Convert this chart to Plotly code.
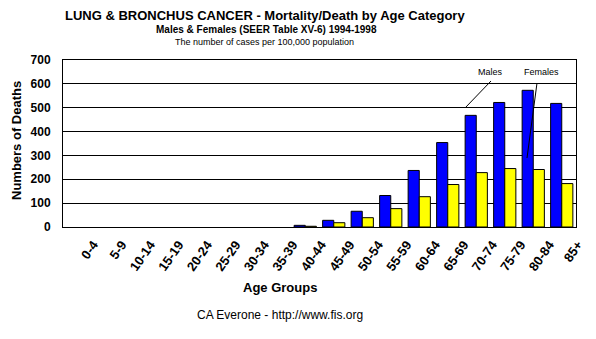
import plotly.graph_objects as go

age_groups = ["0-4", "5-9", "10-14", "15-19", "20-24", "25-29", "30-34", "35-39", "40-44",
              "45-49", "50-54", "55-59", "60-64", "65-69", "70-74", "75-79", "80-84", "85+"]
males = [0, 0, 0, 0, 0, 0, 0, 0, 7, 28, 66, 132, 237, 354, 468, 522, 573, 518]
females = [0, 0, 0, 0, 0, 0, 0, 0, 3, 18, 39, 77, 127, 178, 228, 245, 241, 182]
y_ticks = [0, 100, 200, 300, 400, 500, 600, 700]

FONT = "Arial, Liberation Sans, sans-serif"

def outline(vals):
    return [1 if v > 0 else 0 for v in vals]

fig = go.Figure()
fig.add_trace(go.Bar(x=age_groups, y=males, name="Males",
                     marker=dict(color="#0000FF", line=dict(color="black", width=outline(males)))))
fig.add_trace(go.Bar(x=age_groups, y=females, name="Females",
                     marker=dict(color="#FFFF00", line=dict(color="black", width=outline(females)))))

L, R, T, B = 63, 20, 60, 112
W, H = 596, 339
pw = W - L - R
ph = H - T - B

def px(x):
    return (x - L) / pw

def py(y):
    return (H - B - y) / ph

annotations = [
    dict(text="<b>LUNG & BRONCHUS CANCER - Mortality/Death by Age Category</b>", x=px(265), y=py(15),
         font=dict(size=13, family=FONT, color="black")),
    dict(text="<b>Males & Females (SEER Table XV-6) 1994-1998</b>", x=px(266), y=py(30),
         font=dict(size=10, family=FONT, color="black")),
    dict(text="The number of cases per 100,000 population", x=px(264), y=py(42),
         font=dict(size=9, family=FONT, color="black")),
    dict(text="<b>Age Groups</b>", x=px(280), y=py(287),
         font=dict(size=13, family=FONT, color="black")),
    dict(text="CA Everone - http://www.fis.org", x=px(280), y=py(315),
         font=dict(size=12, family=FONT, color="black")),
    dict(text="<b>Numbers of Deaths</b>", x=px(16), y=py(141), textangle=-90,
         font=dict(size=13, family=FONT, color="black")),
    dict(text="Males", x=px(490), y=py(72),
         font=dict(size=9, family=FONT, color="black")),
    dict(text="Females", x=px(541), y=py(72),
         font=dict(size=9, family=FONT, color="black")),
]
for a in annotations:
    a.update(xref="paper", yref="paper", showarrow=False, xanchor="center", yanchor="middle")

fig.update_layout(
    annotations=annotations,
    width=W, height=H,
    margin=dict(l=L, r=R, t=T, b=B, pad=0, autoexpand=False),
    paper_bgcolor="white", plot_bgcolor="white",
    barmode="group", bargap=0.22, bargroupgap=0,
    showlegend=False,
    font=dict(family=FONT, color="black"),
    xaxis=dict(type="category", tickangle=-55, showline=True, linecolor="black", linewidth=1,
               mirror=True, showgrid=False, ticks="", automargin=False,
               ticklabelshift=16, ticklabelstandoff=4,
               tickfont=dict(size=13, family=FONT, color="black"),
               tickprefix="<b>", ticksuffix="</b>"),
    yaxis=dict(range=[0, 700], tickvals=y_ticks, ticktext=[f"<b>{v}</b>" for v in y_ticks],
               showline=True, linecolor="black", linewidth=1, mirror=True, automargin=False,
               showgrid=True, gridcolor="black", gridwidth=1, zeroline=False, ticks="",
               ticklabelstandoff=9, tickfont=dict(size=12, family=FONT, color="black")),
    shapes=[
        dict(type="line", xref="paper", yref="paper", x0=px(491), y0=py(81), x1=px(465), y1=py(108),
             line=dict(color="black", width=1)),
        dict(type="line", xref="paper", yref="paper", x0=px(537), y0=py(83), x1=px(527), y1=py(158),
             line=dict(color="black", width=1)),
    ],
)

fig.write_html("out.html")
